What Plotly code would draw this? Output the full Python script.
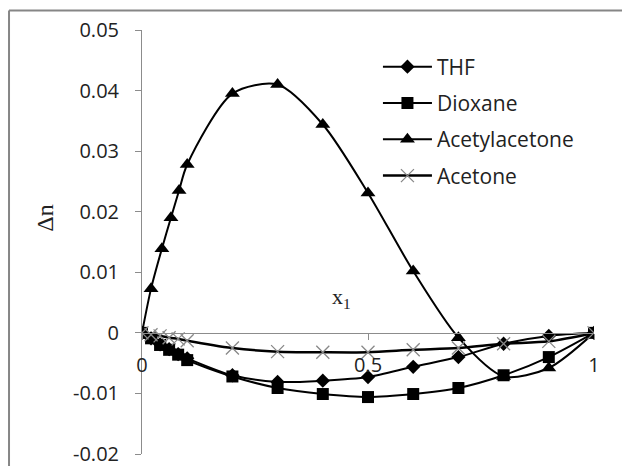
import plotly.graph_objects as go

# Data
x_thf = [0, 0.02, 0.04, 0.06, 0.08, 0.10, 0.20, 0.30, 0.40, 0.50, 0.60, 0.70, 0.80, 0.90, 1.0]
y_thf = [0, -0.0009, -0.0019, -0.0027, -0.0035, -0.0042, -0.0070, -0.0081, -0.0079, -0.0073, -0.0056, -0.0040, -0.0018, -0.0005, 0]

x_diox = [0, 0.02, 0.04, 0.06, 0.08, 0.10, 0.20, 0.30, 0.40, 0.50, 0.60, 0.70, 0.80, 0.90, 1.0]
y_diox = [0, -0.0009, -0.0020, -0.0028, -0.0036, -0.0045, -0.0072, -0.0091, -0.0101, -0.0106, -0.0101, -0.0091, -0.0070, -0.0040, 0]

x_acac = [0, 0.02, 0.044, 0.064, 0.082, 0.10, 0.20, 0.30, 0.40, 0.50, 0.60, 0.70, 0.80, 0.90, 1.0]
y_acac = [0, 0.0073, 0.0139, 0.0190, 0.0235, 0.0278, 0.0395, 0.0410, 0.0344, 0.0231, 0.0102, -0.0008, -0.0072, -0.0058, 0]

x_acet = [0, 0.02, 0.04, 0.06, 0.08, 0.10, 0.20, 0.30, 0.40, 0.50, 0.60, 0.70, 0.80, 0.90, 1.0]
y_acet = [0, -0.0003, -0.0005, -0.0008, -0.0010, -0.0013, -0.0025, -0.0031, -0.0032, -0.0032, -0.0028, -0.0025, -0.0018, -0.0014, 0]

x_ticks = [0, 0.5, 1]
x_ticklabels = ["0", "0.5", "1"]
y_ticks = [-0.02, -0.01, 0, 0.01, 0.02, 0.03, 0.04, 0.05]
y_ticklabels = ["-0.02", "-0.01", "0", "0.01", "0.02", "0.03", "0.04", "0.05"]

FONT = "Open Sans"
TXT = "#222222"
fig = go.Figure()

fig.add_trace(go.Scatter(x=x_thf, y=y_thf, name="THF", mode="lines+markers",
                         legendgroup="a",
                         line=dict(color="black", width=2, shape="spline", smoothing=0.8),
                         marker=dict(symbol="diamond", size=11, color="black")))
fig.add_trace(go.Scatter(x=x_diox, y=y_diox, name="Dioxane", mode="lines+markers",
                         legendgroup="b",
                         line=dict(color="black", width=2, shape="spline", smoothing=0.8),
                         marker=dict(symbol="square", size=12, color="black")))
fig.add_trace(go.Scatter(x=x_acac, y=y_acac, name="Acetylacetone", mode="lines+markers",
                         legendgroup="c",
                         line=dict(color="black", width=2, shape="spline", smoothing=0.8),
                         marker=dict(symbol="triangle-up", size=13, color="black")))
fig.add_trace(go.Scatter(x=x_acet, y=y_acet, name="Acetone", mode="lines+markers",
                         legendgroup="d",
                         line=dict(color="black", width=2.5, shape="spline", smoothing=0.8),
                         marker=dict(symbol="x-thin-open", size=13, color="#888888",
                                     line=dict(color="#888888", width=1.3))))

fig.update_layout(
    width=622, height=458,
    margin=dict(l=134, r=36, t=22, b=12, autoexpand=False),
    paper_bgcolor="white", plot_bgcolor="white",
    font=dict(family=FONT, size=20, color=TXT),
    showlegend=True,
    legend=dict(x=0.522, y=0.961, xanchor="left", yanchor="top",
                bgcolor="rgba(0,0,0,0)", tracegroupgap=6, itemwidth=49,
                font=dict(family=FONT, size=21, color=TXT)),
    xaxis=dict(range=[0, 1], tickvals=x_ticks, ticktext=x_ticklabels,
               showgrid=False, zeroline=False, showline=True, linecolor="#8c8c8c",
               linewidth=1, ticks="outside", ticklen=6, tickcolor="#8c8c8c",
               anchor="free", position=2/7, ticklabelstandoff=8, automargin=False),
    yaxis=dict(range=[-0.02, 0.05], tickvals=y_ticks, ticktext=y_ticklabels,
               showgrid=False, zeroline=False, showline=True, linecolor="#8c8c8c",
               linewidth=1, ticks="outside", ticklen=6, tickcolor="#8c8c8c",
               ticklabelstandoff=12, ticklabeloverflow="allow", automargin=False),
    annotations=[
        dict(text="Δn", xref="paper", yref="paper", x=-0.215, y=0.557,
             xanchor="center", yanchor="middle",
             showarrow=False, textangle=-90,
             font=dict(family="Liberation Serif", size=24, color=TXT)),
        dict(text="x<sub>1</sub>", xref="paper", yref="paper", x=0.442, y=0.368,
             xanchor="center", yanchor="middle",
             showarrow=False,
             font=dict(family="Liberation Serif", size=22, color=TXT)),
    ],
    shapes=[
        dict(type="line", xref="paper", yref="paper",
             x0=-0.2942, y0=-0.2, x1=-0.2942, y1=1.046,
             line=dict(color="#868686", width=2)),
        dict(type="line", xref="paper", yref="paper",
             x0=-0.2942, y0=1.046, x1=1.2, y1=1.046,
             line=dict(color="#868686", width=2)),
    ],
)

fig.write_html("out.html")
